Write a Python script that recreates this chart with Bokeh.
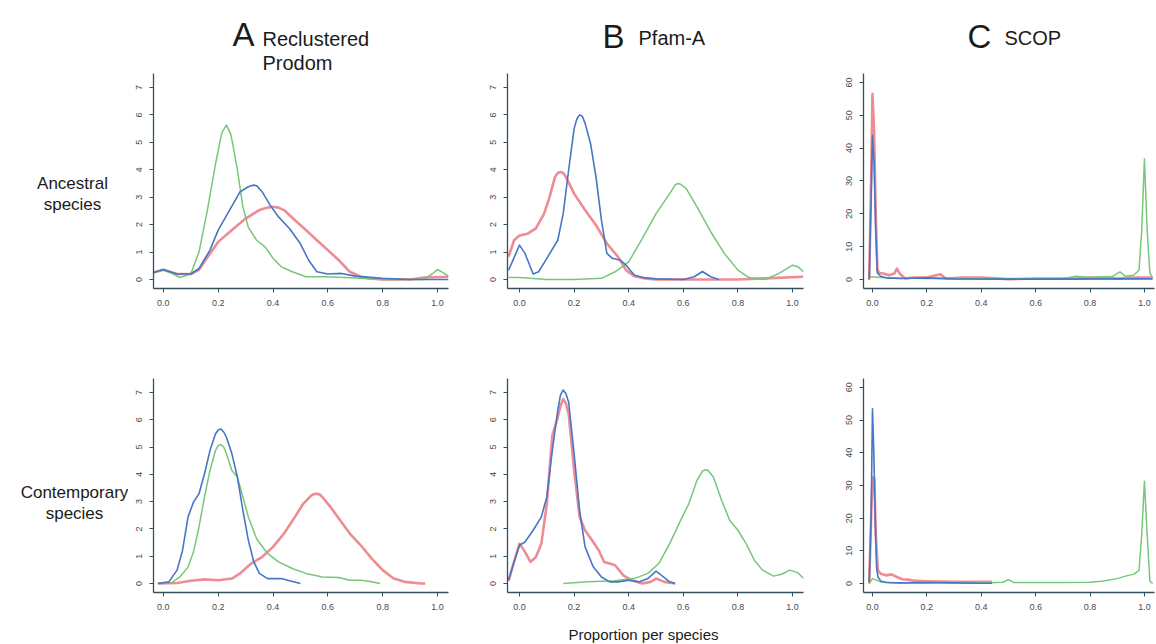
from bokeh.plotting import figure
from bokeh.layouts import column, row
from bokeh.models import Range1d, FixedTicker, CustomJSTickFormatter
from bokeh.core.properties import value
from bokeh.embed import file_html
from bokeh.resources import INLINE

# ---------------- data ----------------
x_ticks = [0.0, 0.2, 0.4, 0.6, 0.8, 1.0]
y_ticks_ab = [0, 1, 2, 3, 4, 5, 6, 7]
y_ticks_c = [0, 10, 20, 30, 40, 50, 60]

col_titles = ["A", "B", "C"]
col_subtitles = ["Reclustered", "Prodom", "Pfam-A", "SCOP"]
row_titles_anc = ["Ancestral", "species"]
row_titles_con = ["Contemporary", "species"]
x_label = ["Proportion per species"]

# A: Reclustered Prodom, ancestral
a_anc_green_x = [-0.036, 0.0, 0.03, 0.06, 0.10, 0.13, 0.16, 0.19, 0.21, 0.215, 0.23, 0.245, 0.25, 0.27, 0.29, 0.31, 0.34, 0.37, 0.40, 0.43, 0.47, 0.52, 0.60, 0.70, 0.80, 0.95, 0.98, 1.0, 1.02, 1.04]
a_anc_green_y = [0.25, 0.34, 0.22, 0.07, 0.2, 1.0, 2.5, 4.2, 5.2, 5.38, 5.63, 5.32, 5.1, 4.0, 2.65, 1.9, 1.43, 1.2, 0.77, 0.46, 0.28, 0.1, 0.1, 0.05, 0.0, 0.0, 0.2, 0.36, 0.25, 0.12]
a_anc_blue_x = [-0.036, 0.0, 0.05, 0.10, 0.13, 0.17, 0.20, 0.24, 0.28, 0.31, 0.32, 0.33, 0.34, 0.36, 0.39, 0.42, 0.46, 0.50, 0.53, 0.56, 0.60, 0.65, 0.70, 0.80, 0.90, 1.04]
a_anc_blue_y = [0.25, 0.36, 0.2, 0.2, 0.4, 1.07, 1.8, 2.5, 3.2, 3.38, 3.42, 3.44, 3.42, 3.2, 2.7, 2.28, 1.86, 1.3, 0.7, 0.28, 0.2, 0.22, 0.12, 0.04, 0.0, 0.0]
a_anc_red_x = [-0.036, 0.0, 0.05, 0.10, 0.13, 0.16, 0.20, 0.25, 0.30, 0.35, 0.38, 0.40, 0.42, 0.44, 0.48, 0.52, 0.56, 0.60, 0.64, 0.68, 0.72, 0.75, 0.80, 0.90, 0.95, 1.04]
a_anc_red_y = [0.25, 0.35, 0.2, 0.2, 0.35, 0.8, 1.37, 1.8, 2.22, 2.53, 2.62, 2.65, 2.62, 2.53, 2.16, 1.8, 1.43, 1.07, 0.7, 0.28, 0.1, 0.04, 0.0, 0.0, 0.07, 0.1]

# B: Pfam-A, ancestral
b_anc_blue_x = [-0.04, 0.0, 0.02, 0.05, 0.07, 0.10, 0.14, 0.16, 0.18, 0.20, 0.21, 0.22, 0.23, 0.24, 0.26, 0.28, 0.30, 0.32, 0.34, 0.37, 0.39, 0.42, 0.45, 0.50, 0.60, 0.64, 0.67, 0.70, 0.73]
b_anc_blue_y = [0.34, 1.25, 0.95, 0.2, 0.28, 0.77, 1.43, 2.4, 4.0, 5.5, 5.85, 6.0, 5.95, 5.7, 4.96, 3.74, 2.16, 0.95, 0.77, 0.7, 0.52, 0.16, 0.07, 0.02, 0.0, 0.1, 0.29, 0.1, 0.0]
b_anc_red_x = [-0.04, -0.02, 0.0, 0.03, 0.06, 0.09, 0.11, 0.13, 0.14, 0.15, 0.16, 0.17, 0.20, 0.24, 0.28, 0.32, 0.36, 0.39, 0.42, 0.46, 0.50, 0.80, 0.90, 1.04]
b_anc_red_y = [0.83, 1.43, 1.6, 1.67, 1.86, 2.4, 3.0, 3.74, 3.88, 3.92, 3.88, 3.74, 3.13, 2.53, 1.98, 1.31, 0.83, 0.34, 0.12, 0.04, 0.0, 0.0, 0.04, 0.1]
b_anc_green_x = [-0.04, 0.0, 0.10, 0.20, 0.30, 0.35, 0.40, 0.45, 0.50, 0.55, 0.57, 0.58, 0.59, 0.61, 0.65, 0.70, 0.75, 0.80, 0.84, 0.90, 0.95, 1.0, 1.02, 1.04]
b_anc_green_y = [0.07, 0.07, 0.0, 0.0, 0.04, 0.28, 0.64, 1.5, 2.4, 3.13, 3.45, 3.5, 3.47, 3.32, 2.65, 1.74, 0.95, 0.34, 0.07, 0.0, 0.22, 0.52, 0.46, 0.28]

# C: SCOP, ancestral
c_anc_red_x = [-0.012, -0.005, 0.0, 0.006, 0.012, 0.018, 0.025, 0.04, 0.06, 0.08, 0.09, 0.10, 0.12, 0.15, 0.20, 0.25, 0.27, 0.33, 0.40, 0.50, 0.60, 0.67, 0.75, 0.80, 0.85, 0.90, 0.95, 1.0, 1.03]
c_anc_red_y = [0.0, 30, 56.5, 45, 20, 3, 2, 1.8, 1.3, 1.8, 3.3, 1.8, 0.3, 0.6, 0.6, 1.6, 0.3, 0.6, 0.6, 0.1, 0.3, 0.3, 0.3, 0.6, 0.6, 0.3, 0.6, 0.6, 0.6]
c_anc_blue_x = [-0.012, -0.005, 0.0, 0.006, 0.012, 0.018, 0.03, 0.05, 0.10, 0.20, 0.30, 0.50, 1.0, 1.03]
c_anc_blue_y = [0.0, 25, 43.8, 35, 15, 2, 1, 0.5, 0.3, 0.5, 0.2, 0.1, 0.2, 0.2]
c_anc_green_x = [-0.012, 0.05, 0.20, 0.50, 0.70, 0.75, 0.80, 0.85, 0.88, 0.91, 0.93, 0.96, 0.98, 0.99, 1.0, 1.01, 1.02, 1.03]
c_anc_green_y = [0.8, 0.5, 0.3, 0.2, 0.3, 1.0, 0.6, 0.8, 0.8, 2.3, 1.0, 1.3, 2.8, 15, 36.7, 15, 2, 0.5]

# A: Reclustered Prodom, contemporary
a_con_blue_x = [-0.02, 0.02, 0.05, 0.07, 0.09, 0.11, 0.13, 0.15, 0.17, 0.19, 0.20, 0.21, 0.22, 0.23, 0.25, 0.27, 0.29, 0.31, 0.33, 0.35, 0.38, 0.43, 0.46, 0.50]
a_con_blue_y = [0.0, 0.06, 0.49, 1.22, 2.44, 2.98, 3.29, 4.02, 4.87, 5.48, 5.62, 5.66, 5.55, 5.36, 4.75, 3.9, 2.68, 1.58, 0.79, 0.37, 0.18, 0.18, 0.1, 0.0]
a_con_green_x = [-0.02, 0.03, 0.06, 0.09, 0.11, 0.13, 0.15, 0.17, 0.19, 0.20, 0.21, 0.22, 0.23, 0.25, 0.27, 0.29, 0.31, 0.34, 0.38, 0.42, 0.47, 0.52, 0.58, 0.64, 0.68, 0.72, 0.76, 0.79]
a_con_green_y = [0.0, 0.02, 0.24, 0.6, 1.16, 2.07, 3.17, 4.14, 4.87, 5.05, 5.09, 5.0, 4.75, 4.14, 3.9, 3.17, 2.44, 1.64, 1.1, 0.79, 0.55, 0.37, 0.24, 0.22, 0.12, 0.12, 0.06, 0.0]
a_con_red_x = [-0.02, 0.05, 0.10, 0.15, 0.20, 0.25, 0.28, 0.32, 0.36, 0.40, 0.44, 0.48, 0.51, 0.54, 0.55, 0.56, 0.57, 0.58, 0.61, 0.64, 0.68, 0.72, 0.76, 0.80, 0.84, 0.88, 0.94, 0.955]
a_con_red_y = [0.0, 0.02, 0.1, 0.15, 0.12, 0.18, 0.37, 0.73, 0.97, 1.34, 1.83, 2.44, 2.92, 3.23, 3.28, 3.29, 3.26, 3.17, 2.8, 2.38, 1.83, 1.4, 0.91, 0.49, 0.18, 0.06, 0.0, 0.0]

# B: Pfam-A, contemporary
b_con_blue_x = [-0.04, -0.02, 0.0, 0.02, 0.05, 0.08, 0.10, 0.12, 0.14, 0.15, 0.16, 0.17, 0.18, 0.20, 0.22, 0.24, 0.27, 0.30, 0.33, 0.36, 0.40, 0.44, 0.47, 0.50, 0.52, 0.55, 0.57]
b_con_blue_y = [0.12, 0.79, 1.4, 1.52, 1.95, 2.44, 3.17, 4.87, 6.33, 6.9, 7.09, 6.95, 6.64, 4.75, 2.68, 1.34, 0.61, 0.24, 0.06, 0.06, 0.12, 0.06, 0.18, 0.45, 0.3, 0.06, 0.0]
b_con_red_x = [-0.04, -0.02, 0.0, 0.02, 0.04, 0.06, 0.08, 0.10, 0.12, 0.14, 0.15, 0.16, 0.17, 0.18, 0.20, 0.22, 0.24, 0.27, 0.29, 0.31, 0.33, 0.35, 0.38, 0.41, 0.45, 0.48, 0.50, 0.53, 0.57]
b_con_red_y = [0.1, 0.8, 1.46, 1.16, 0.79, 0.97, 1.46, 2.92, 5.42, 6.09, 6.5, 6.76, 6.6, 6.21, 4.14, 2.44, 1.95, 1.52, 1.22, 0.79, 0.73, 0.67, 0.3, 0.12, 0.0, 0.06, 0.18, 0.06, 0.0]
b_con_green_x = [0.16, 0.25, 0.35, 0.42, 0.47, 0.51, 0.55, 0.59, 0.62, 0.65, 0.67, 0.68, 0.69, 0.71, 0.74, 0.77, 0.80, 0.83, 0.86, 0.89, 0.93, 0.96, 0.99, 1.02, 1.04]
b_con_green_y = [0.0, 0.06, 0.1, 0.18, 0.37, 0.73, 1.46, 2.31, 2.92, 3.78, 4.12, 4.17, 4.15, 3.9, 3.05, 2.31, 1.95, 1.46, 0.85, 0.49, 0.27, 0.34, 0.49, 0.39, 0.18]

# C: SCOP, contemporary
c_con_blue_x = [-0.012, -0.005, 0.0, 0.005, 0.01, 0.015, 0.02, 0.03, 0.05, 0.10, 0.20, 0.30, 0.40, 0.44]
c_con_blue_y = [0.5, 20, 53.4, 40, 20, 5, 2, 0.8, 0.3, 0.2, 0.3, 0.2, 0.1, 0.1]
c_con_red_x = [-0.012, -0.005, 0.0, 0.007, 0.012, 0.02, 0.03, 0.05, 0.07, 0.09, 0.11, 0.13, 0.16, 0.20, 0.30, 0.40, 0.44]
c_con_red_y = [0.0, 20, 32.5, 32, 15, 4, 3, 2.5, 2.8, 2, 1.3, 1.2, 0.8, 0.7, 0.5, 0.5, 0.5]
c_con_green_x = [-0.012, 0.0, 0.03, 0.10, 0.20, 0.30, 0.40, 0.48, 0.50, 0.52, 0.60, 0.70, 0.80, 0.85, 0.90, 0.94, 0.96, 0.98, 0.99, 1.0, 1.01, 1.02, 1.03]
c_con_green_y = [0.0, 1.5, 0.5, 0.2, 0.2, 0.3, 0.2, 0.4, 1.2, 0.3, 0.3, 0.3, 0.4, 0.8, 1.5, 2.5, 2.8, 4, 15, 31.3, 15, 0.8, 0.0]

# ---------------- styling ----------------
GREEN = "#78c678"
BLUE = "#4676c4"
RED = "#ec7f87"
AXIS = "#34505d"
TXT = "#1b1b1b"
FONT = "Liberation Sans"


def make_fig(fw, fh, bl, br, bt, bb, xr, yr, yticks):
    p = figure(frame_width=fw, frame_height=fh,
               min_border_left=bl, min_border_right=br,
               min_border_top=bt, min_border_bottom=bb,
               x_range=Range1d(*xr), y_range=Range1d(*yr),
               output_backend="svg", toolbar_location=None, tools="")
    p.outline_line_color = None
    p.grid.visible = False
    p.xaxis.ticker = FixedTicker(ticks=x_ticks)
    p.xaxis.formatter = CustomJSTickFormatter(code="return tick.toFixed(1)")
    p.yaxis.ticker = FixedTicker(ticks=yticks)
    for ax in (p.xaxis[0], p.yaxis[0]):
        ax.axis_line_color = AXIS
        ax.axis_line_width = 1.3
        ax.major_tick_line_color = AXIS
        ax.major_tick_out = 4
        ax.major_tick_in = 0
        ax.minor_tick_line_color = None
        ax.major_label_text_color = "#4a4a4a"
        ax.major_label_text_font = FONT
        ax.major_label_text_font_size = "9px"
    p.xaxis.major_label_standoff = 7
    p.yaxis.major_label_standoff = 7
    p.yaxis.major_label_orientation = "vertical"
    return p


def text_fig(w, fh, bt, bb):
    # same border layout as the neighbouring panels, so that frames line up
    p = figure(frame_width=w, frame_height=fh, min_border_left=0, min_border_right=0,
               min_border_top=bt, min_border_bottom=bb,
               x_range=Range1d(0, w), y_range=Range1d(0, fh),
               x_axis_type=None, y_axis_type=None,
               output_backend="svg", toolbar_location=None, tools="")
    p.outline_line_color = None
    p.grid.visible = False
    return p


def curves(p, rx, ry, gx, gy, bx, by):
    p.line(rx, ry, line_color=RED, line_width=2.6, line_alpha=0.9, line_join="round")
    p.line(gx, gy, line_color=GREEN, line_width=1.5, line_join="round")
    p.line(bx, by, line_color=BLUE, line_width=1.6, line_join="round")


def put(p, xs, ys, texts, size, align="left"):
    p.text(x=xs, y=ys, text=texts, text_font=value(FONT),
           text_font_size=value(size), text_color=TXT,
           text_align=align, text_baseline="alphabetic")


XR_A = (-0.036, 1.04)
XR_B = (-0.044, 1.04)
XR_C = (-0.033, 1.037)
YR_AB = (-0.33, 7.51)
YR_C = (-2.74, 62.7)

# header (column titles)
hdr = text_fig(1155, 73, 0, 0)
put(hdr, [232, 602, 967], [39, 37, 37], col_titles, "33px")
put(hdr, [262, 262, 638, 1004], [35, 11, 36, 36], col_subtitles, "20px")

# row label panels (frame = same as the neighbouring plot frame)
lab1 = text_fig(128, 215, 0, 52)
put(lab1, [72, 72], [105, 84], row_titles_anc, "17px", "center")
lab2 = text_fig(128, 214, 38, 24)
put(lab2, [74, 74], [100, 79], row_titles_con, "17px", "center")

# footer (shared x label)
ftr = text_fig(1155, 27, 0, 0)
put(ftr, [643], [9], x_label, "15px", "center")

# top row
pa1 = make_fig(295, 215, 25, 32, 0, 52, XR_A, YR_AB, y_ticks_ab)
pb1 = make_fig(296, 215, 27, 32, 0, 52, XR_B, YR_AB, y_ticks_ab)
pc1 = make_fig(291, 215, 28, 1, 0, 52, XR_C, YR_C, y_ticks_c)
# bottom row
pa2 = make_fig(295, 214, 25, 32, 38, 24, XR_A, YR_AB, y_ticks_ab)
pb2 = make_fig(296, 214, 27, 32, 38, 24, XR_B, YR_AB, y_ticks_ab)
pc2 = make_fig(291, 214, 28, 1, 38, 24, XR_C, YR_C, y_ticks_c)

curves(pa1, a_anc_red_x, a_anc_red_y, a_anc_green_x, a_anc_green_y, a_anc_blue_x, a_anc_blue_y)
curves(pb1, b_anc_red_x, b_anc_red_y, b_anc_green_x, b_anc_green_y, b_anc_blue_x, b_anc_blue_y)
curves(pc1, c_anc_red_x, c_anc_red_y, c_anc_green_x, c_anc_green_y, c_anc_blue_x, c_anc_blue_y)
curves(pa2, a_con_red_x, a_con_red_y, a_con_green_x, a_con_green_y, a_con_blue_x, a_con_blue_y)
curves(pb2, b_con_red_x, b_con_red_y, b_con_green_x, b_con_green_y, b_con_blue_x, b_con_blue_y)
curves(pc2, c_con_red_x, c_con_red_y, c_con_green_x, c_con_green_y, c_con_blue_x, c_con_blue_y)

layout = column(hdr,
                row(lab1, pa1, pb1, pc1),
                row(lab2, pa2, pb2, pc2),
                ftr)
open("out.html", "w").write(file_html(layout, INLINE))
